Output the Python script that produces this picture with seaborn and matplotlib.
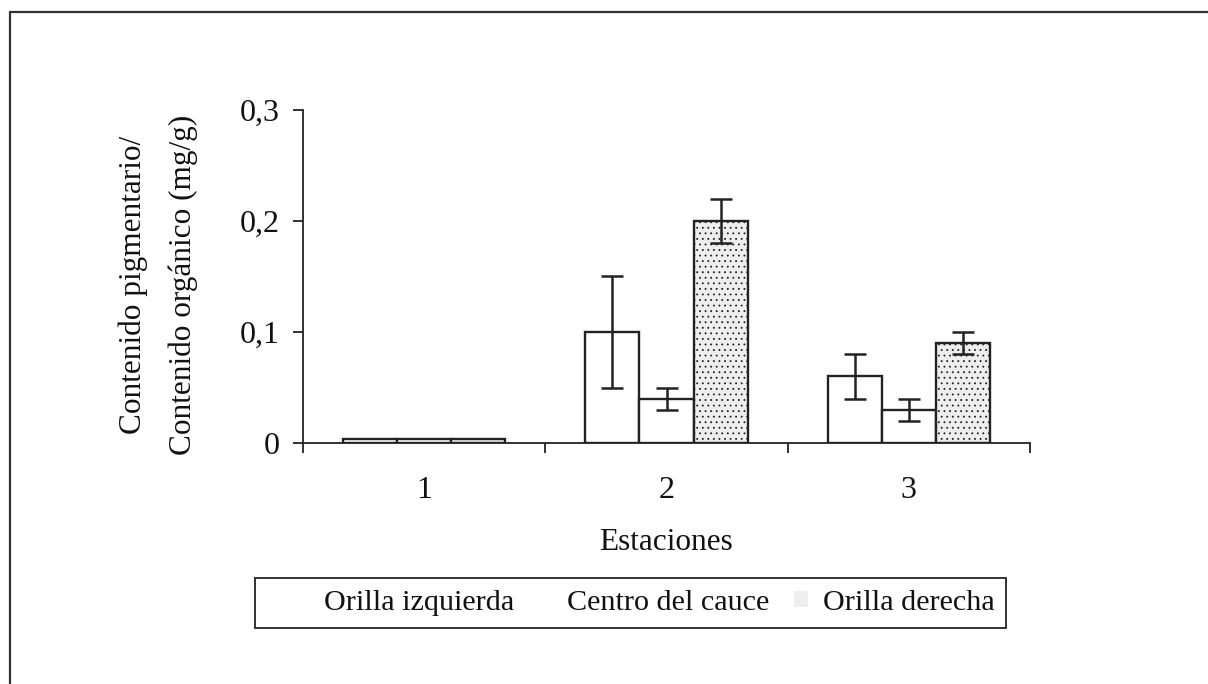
import matplotlib
matplotlib.use("Agg")
import matplotlib.pyplot as plt
import seaborn as sns
import pandas as pd
import numpy as np
from matplotlib.patches import Patch, Rectangle
from matplotlib.lines import Line2D

stations = ["1", "2", "3"]
series = ["Orilla izquierda", "Centro del cauce", "Orilla derecha"]
izquierda = [0.004, 0.10, 0.06]
centro = [0.004, 0.04, 0.03]
derecha = [0.004, 0.20, 0.09]
err_izquierda = [0.0, 0.05, 0.02]
err_centro = [0.0, 0.01, 0.01]
err_derecha = [0.0, 0.02, 0.01]
yticks = [0.0, 0.1, 0.2, 0.3]
ytick_labels = ["0", "0,1", "0,2", "0,3"]

sns.set_theme(style="white")
plt.rcParams["font.family"] = ["Liberation Serif", "DejaVu Serif"]
plt.rcParams["hatch.color"] = "#b8b8b8"
plt.rcParams["hatch.linewidth"] = 0.6

rows = []
for s, vals, errs in zip(series, [izquierda, centro, derecha],
                         [err_izquierda, err_centro, err_derecha]):
    for st, v, e in zip(stations, vals, errs):
        rows.append({"Estación": st, "Serie": s, "Valor": v, "Error": e})
df = pd.DataFrame(rows)

W, H = 1208, 684
fig = plt.figure(figsize=(W / 100, H / 100), dpi=100)
ax = fig.add_axes([303 / W, 1 - 443 / H, 727 / W, 333 / H])

edge = "#222222"
txt = "#111111"
fs = 22.5
fs_tick = 23
fs_leg = 21.7
fill3 = "#eeeeee"
palette = {"Orilla izquierda": "white", "Centro del cauce": "white",
           "Orilla derecha": fill3}
sns.barplot(data=df, x="Estación", y="Valor", hue="Serie", order=stations,
            hue_order=series, palette=palette, width=0.67, errorbar=None,
            edgecolor=edge, linewidth=1.7, legend=False, ax=ax, saturation=1)

# stipple on third series and error bars
for cont, s in zip(ax.containers, series):
    sub = df[df["Serie"] == s].set_index("Estación").loc[stations]
    xs, ys, es = [], [], []
    for bar, (_, r) in zip(cont, sub.iterrows()):
        if s == "Orilla derecha":
            bar.set_hatch("...")
        if r["Error"] > 0:
            xs.append(bar.get_x() + bar.get_width() / 2)
            ys.append(bar.get_height())
            es.append(r["Error"])
    if xs:
        ax.errorbar(xs, ys, yerr=es, fmt="none", ecolor=edge, elinewidth=1.8,
                    capsize=8, capthick=1.8, zorder=5)

ax.set_xlim(-0.5, 2.5)
ax.set_ylim(0, 0.3)
ax.set_yticks(yticks)
ax.set_yticklabels(ytick_labels, fontsize=fs_tick)
ax.set_xticks([0, 1, 2])
ax.set_xticklabels(stations, fontsize=fs_tick)
ax.set_xticks([-0.5, 0.5, 1.5, 2.5], minor=True)
ax.tick_params(axis="x", which="major", length=0, pad=24, labelcolor=txt)
ax.tick_params(axis="x", which="minor", length=7, width=1.3, color=edge,
               direction="out", bottom=True)
ax.tick_params(axis="y", length=7, width=1.3, color=edge, direction="out",
               left=True, pad=10, labelcolor=txt)
for side in ["top", "right"]:
    ax.spines[side].set_visible(False)
for side in ["left", "bottom"]:
    ax.spines[side].set_color(edge)
    ax.spines[side].set_linewidth(1.3)

ax.set_xlabel("Estaciones", fontsize=fs, labelpad=16, color=txt)
ax.set_ylabel("Contenido pigmentario/\nContenido orgánico (mg/g)", fontsize=fs,
              labelpad=30, color=txt, linespacing=1.9)
ax.yaxis.label.set_y(0.475)

handles = [Patch(facecolor="white", edgecolor="none"),
           Patch(facecolor="white", edgecolor="none"),
           Patch(facecolor=fill3, edgecolor="none", hatch="...")]
leg = fig.legend(handles, series, loc="center", ncol=3,
                 bbox_to_anchor=(645 / W, 1 - 603 / H), fontsize=fs_leg,
                 frameon=False, handlelength=0.45, handleheight=0.45,
                 handletextpad=0.5, columnspacing=0.82,
                 borderpad=0, borderaxespad=0)
for t in leg.get_texts():
    t.set_color(txt)
# legend box as in the reference (asymmetric padding)
fig.add_artist(Rectangle((255 / W, 1 - 628 / H), (1006 - 255) / W, 50 / H,
                         transform=fig.transFigure, fill=False,
                         edgecolor=edge, linewidth=1.3))

# outer frame (top and left lines only)
fig.add_artist(Line2D([10 / W, 1.0], [1 - 12 / H, 1 - 12 / H],
                      transform=fig.transFigure, color="#333333", lw=1.6))
fig.add_artist(Line2D([10 / W, 10 / W], [0.0, 1 - 12 / H],
                      transform=fig.transFigure, color="#333333", lw=1.6))

fig.savefig("out.png", dpi=100)
